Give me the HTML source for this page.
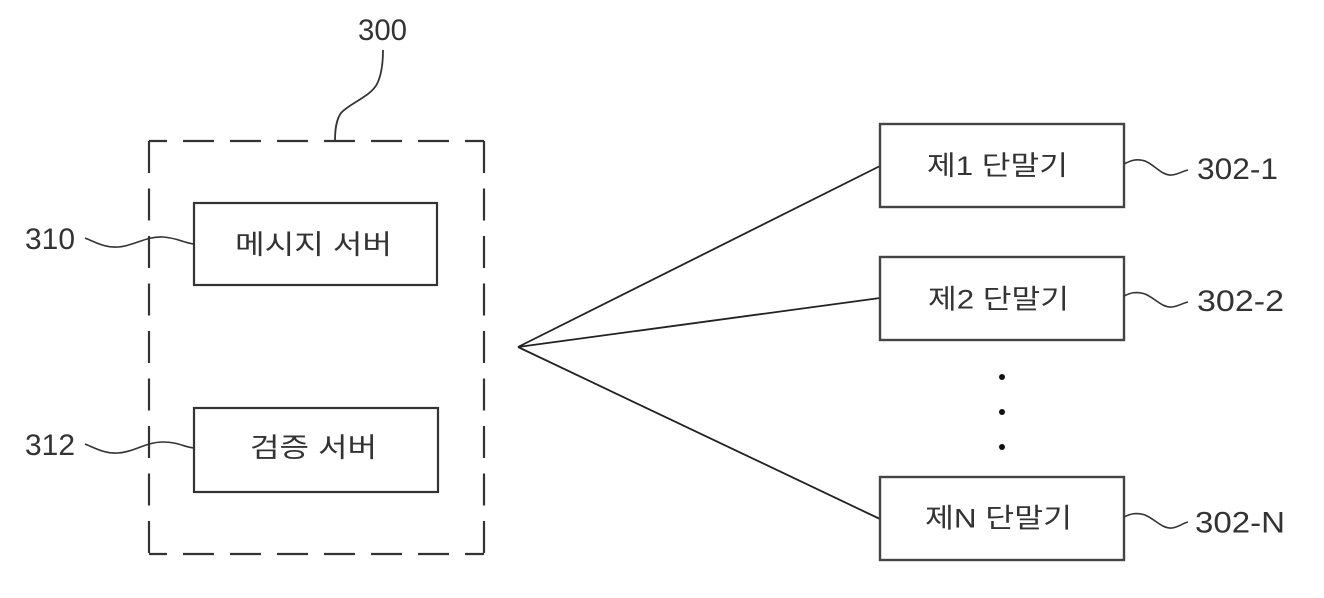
<!DOCTYPE html>
<html>
<head>
<meta charset="utf-8">
<style>
  html,body{margin:0;padding:0;background:#fff;}
  svg{display:block;}
  .num{font-family:"Liberation Sans",sans-serif;font-size:30px;fill:#333;}
  .ko{font-family:"Liberation Sans","Noto Sans CJK KR",sans-serif;font-size:27px;fill:#333;}
</style>
</head>
<body>
<svg width="1324" height="598" viewBox="0 0 1324 598" xmlns="http://www.w3.org/2000/svg">
  <rect x="0" y="0" width="1324" height="598" fill="#fff"/>

  <!-- dashed enclosure 300 -->
  <g stroke="#333" stroke-width="2.2" fill="none">
    <path d="M149,141 H484" stroke-dasharray="31 16" stroke-dashoffset="13"/>
    <path d="M149,554 H484" stroke-dasharray="31 16" stroke-dashoffset="13"/>
    <path d="M149,141 V554" stroke-dasharray="32 15.5" stroke-dashoffset="0"/>
    <path d="M484,141 V554" stroke-dasharray="32 15.5" stroke-dashoffset="0"/>
  </g>

  <!-- leader 300 -->
  <path d="M383,50 C383,62 382,74 377,84 C370,97 350,103 341,113 C336,120 335,130 335,141" stroke="#333" stroke-width="1.8" fill="none"/>
  <text class="num" x="358" y="40" textLength="49" lengthAdjust="spacingAndGlyphs">300</text>

  <!-- message server -->
  <rect x="194" y="203" width="243" height="82" fill="none" stroke="#333" stroke-width="2.2"/>
  <text class="ko" x="313.5" y="245" text-anchor="middle" dominant-baseline="central" textLength="157" lengthAdjust="spacingAndGlyphs">메시지 서버</text>
  <path d="M85,238 C95,242 105,248 118,247 C134,246 146,236 163,237 C178,238 184,243 194,244" stroke="#333" stroke-width="1.6" fill="none"/>
  <text class="num" x="25" y="249" textLength="50" lengthAdjust="spacingAndGlyphs">310</text>

  <!-- verification server -->
  <rect x="194" y="408" width="244" height="84" fill="none" stroke="#333" stroke-width="2.2"/>
  <text class="ko" x="313.5" y="448" text-anchor="middle" dominant-baseline="central" textLength="127" lengthAdjust="spacingAndGlyphs">검증 서버</text>
  <path d="M85,444 C95,448 105,454 118,453 C134,452 146,442 163,442 C178,442 184,447 194,448" stroke="#333" stroke-width="1.6" fill="none"/>
  <text class="num" x="25" y="455" textLength="50" lengthAdjust="spacingAndGlyphs">312</text>

  <!-- fan lines -->
  <g stroke="#222" stroke-width="1.8" fill="none">
    <line x1="518" y1="347" x2="880" y2="166"/>
    <line x1="518" y1="347" x2="880" y2="298"/>
    <line x1="518" y1="347" x2="880" y2="519"/>
  </g>

  <!-- terminal 1 -->
  <rect x="880" y="124" width="244" height="83" fill="none" stroke="#444" stroke-width="2.4"/>
  <text class="ko" x="997.5" y="166" text-anchor="middle" dominant-baseline="central" textLength="141" lengthAdjust="spacingAndGlyphs">제1 단말기</text>
  <path d="M1124,164 C1130,161 1136,158 1145,161 C1155,165 1162,176 1172,175 C1179,174 1183,171 1188,170" stroke="#333" stroke-width="1.6" fill="none"/>
  <text class="num" x="1197" y="179" textLength="81" lengthAdjust="spacingAndGlyphs">302-1</text>

  <!-- terminal 2 -->
  <rect x="880" y="257" width="244" height="83" fill="none" stroke="#444" stroke-width="2.4"/>
  <text class="ko" x="998.5" y="299.5" text-anchor="middle" dominant-baseline="central" textLength="141" lengthAdjust="spacingAndGlyphs">제2 단말기</text>
  <path d="M1124,296 C1130,293 1136,291 1145,294 C1155,298 1162,308 1172,307 C1179,306 1183,303 1188,302" stroke="#333" stroke-width="1.6" fill="none"/>
  <text class="num" x="1197" y="311" textLength="87" lengthAdjust="spacingAndGlyphs">302-2</text>

  <!-- dots -->
  <g fill="#111">
    <circle cx="1002" cy="377" r="3"/>
    <circle cx="1002" cy="412" r="3"/>
    <circle cx="1002" cy="447" r="3"/>
  </g>

  <!-- terminal N -->
  <rect x="880" y="477" width="244" height="83" fill="none" stroke="#444" stroke-width="2.4"/>
  <text class="ko" x="998.5" y="518.5" text-anchor="middle" dominant-baseline="central" textLength="147" lengthAdjust="spacingAndGlyphs">제N 단말기</text>
  <path d="M1124,517 C1130,514 1136,512 1145,515 C1155,519 1162,529 1172,528 C1179,527 1183,523 1188,522" stroke="#333" stroke-width="1.6" fill="none"/>
  <text class="num" x="1195" y="532.5" textLength="90" lengthAdjust="spacingAndGlyphs">302-N</text>
</svg>
</body>
</html>
